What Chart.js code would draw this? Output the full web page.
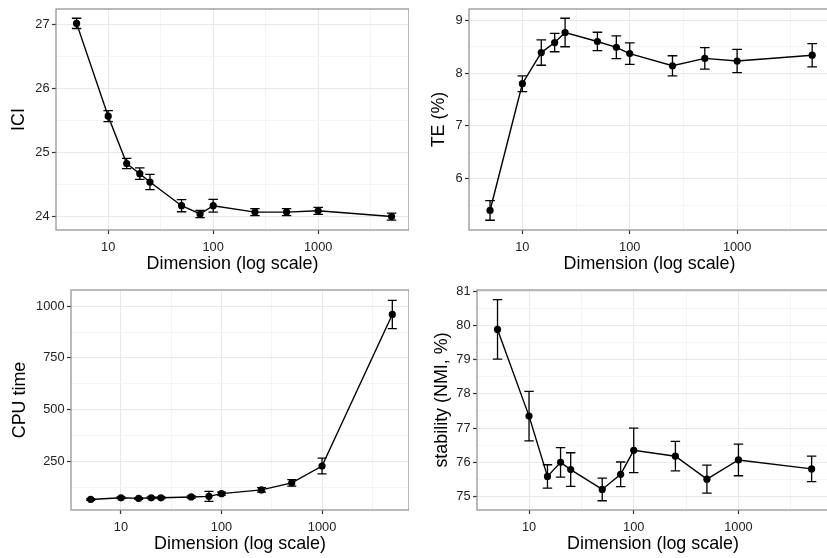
<!DOCTYPE html>
<html><head><meta charset="utf-8">
<script src="https://cdn.jsdelivr.net/npm/chart.js@4.4.1/dist/chart.umd.min.js"></script>
<style>
html,body{margin:0;padding:0;background:#fff;width:827px;height:558px;overflow:hidden;position:relative;}
.p{position:absolute;}
.p canvas{display:block;}
</style></head><body>
<div class="p" id="w1" style="left:8px;top:1px;width:401px;height:274px"><canvas id="c1"></canvas></div>
<div class="p" id="w2" style="left:428px;top:1px;width:402px;height:274px"><canvas id="c2"></canvas></div>
<div class="p" id="w3" style="left:9px;top:282px;width:400px;height:273px"><canvas id="c3"></canvas></div>
<div class="p" id="w4" style="left:431px;top:282px;width:398px;height:273px"><canvas id="c4"></canvas></div>
<script>
// ---- data ----
const dims = [5, 10, 15, 20, 25, 50, 75, 100, 250, 500, 1000, 5000];

const iciMean = [27.02, 25.57, 24.83, 24.67, 24.54, 24.17, 24.04, 24.17, 24.07, 24.07, 24.09, 24.00];
const iciErr  = [0.08, 0.085, 0.08, 0.09, 0.12, 0.095, 0.055, 0.10, 0.055, 0.055, 0.055, 0.055];

const teMean = [5.40, 7.80, 8.39, 8.58, 8.77, 8.60, 8.49, 8.37, 8.14, 8.28, 8.23, 8.34];
const teErr  = [0.185, 0.15, 0.24, 0.175, 0.27, 0.175, 0.215, 0.205, 0.19, 0.205, 0.22, 0.22];

const cpuMean = [67, 75, 72, 75, 75, 79, 82, 95, 113, 147, 228, 960];
const cpuErr  = [4, 4, 4, 4, 4, 5, 24, 7, 11, 16, 38, 68];

const stabMean = [79.88, 77.35, 75.59, 76.00, 75.79, 75.21, 75.65, 76.35, 76.18, 75.51, 76.07, 75.81];
const stabErr  = [0.87, 0.72, 0.34, 0.43, 0.49, 0.33, 0.36, 0.65, 0.43, 0.41, 0.46, 0.37];

const xMajor = [10, 100, 1000];
const xMinor = [31.62, 316.2, 3162];

const iciMajor = [24, 25, 26, 27];       const iciMinor = [24.5, 25.5, 26.5];
const teMajor = [6, 7, 8, 9];            const teMinor = [5.5, 6.5, 7.5, 8.5];
const cpuMajor = [250, 500, 750, 1000];  const cpuMinor = [125, 375, 625, 875];
const stabMajor = [75, 76, 77, 78, 79, 80, 81]; const stabMinor = [75.5, 76.5, 77.5, 78.5, 79.5, 80.5];

const xTitle = 'Dimension (log scale)';

// ---- styling ----
const FONT = '"Liberation Sans", Arial, Helvetica, sans-serif';
const TICK_FONT = {family: FONT, size: 12.8, lineHeight: 1.2};
const TITLE_FONT = {family: FONT, size: 17.9, lineHeight: 1.2};
const CAP_RATIO = Math.pow(10, 0.045);
const X_MIN = Math.pow(10, 0.503), X_MAX = Math.pow(10, 3.865);

function mkTicks(major, minor) {
  return major.map(v => ({value: v, minor: false}))
    .concat(minor.map(v => ({value: v, minor: true})))
    .sort((a, b) => a.value - b.value);
}

const errPlugin = {
  id: 'errbars',
  afterDatasetsDraw(chart) {
    const {ctx} = chart; const x = chart.scales.x, y = chart.scales.y;
    const ds = chart.data.datasets[0];
    ctx.save();
    ctx.strokeStyle = '#000'; ctx.lineWidth = 1.3;
    ds.data.forEach((p, i) => {
      const e = ds.err[i];
      const px = x.getPixelForValue(p.x);
      const xl = x.getPixelForValue(p.x / CAP_RATIO), xr = x.getPixelForValue(p.x * CAP_RATIO);
      const yt = y.getPixelForValue(p.y + e), yb = y.getPixelForValue(p.y - e);
      ctx.beginPath();
      ctx.moveTo(px, yt); ctx.lineTo(px, yb);
      ctx.moveTo(xl, yt); ctx.lineTo(xr, yt);
      ctx.moveTo(xl, yb); ctx.lineTo(xr, yb);
      ctx.stroke();
    });
    ctx.restore();
  },
  afterDraw(chart) {
    const {ctx, chartArea: a} = chart;
    ctx.save();
    ctx.strokeStyle = '#8c8c8c'; ctx.lineWidth = 1.2;
    ctx.strokeRect(a.left, a.top, a.right - a.left, a.bottom - a.top);
    ctx.restore();
  }
};

function gridOpts() {
  return {
    color: c => (c.tick && c.tick.minor) ? '#f4f4f4' : '#e8e8e8',
    lineWidth: 1,
    drawTicks: true,
    tickLength: 4,
    tickWidth: 1.2,
    tickColor: c => (c.tick && c.tick.minor) ? 'rgba(0,0,0,0)' : '#333333'
  };
}

function makePanel(id, yTitle, mean, err, yMin, yMax, yMajor, yMinor, yW, xH) {
  new Chart(document.getElementById(id), {
    type: 'line',
    data: {
      datasets: [{
        data: dims.map((d, i) => ({x: d, y: mean[i]})),
        err: err,
        borderColor: '#000',
        borderWidth: 1.4,
        pointRadius: 3.6,
        pointBackgroundColor: '#000',
        pointBorderColor: '#000',
        pointBorderWidth: 0,
        tension: 0,
        fill: false
      }]
    },
    options: {
      responsive: true,
      maintainAspectRatio: false,
      animation: false,
      devicePixelRatio: 1,
      layout: {padding: {top: 8, left: 0, right: 0, bottom: 0}, autoPadding: false},
      plugins: {legend: {display: false}, tooltip: {enabled: false}},
      events: [],
      scales: {
        x: {
          type: 'logarithmic',
          min: X_MIN, max: X_MAX,
          afterBuildTicks: s => { s.ticks = mkTicks(xMajor, xMinor); },
          afterFit: s => { s.height = xH; s.paddingLeft = 0; s.paddingRight = 0; },
          grid: gridOpts(),
          border: {display: false},
          ticks: {
            autoSkip: false, maxRotation: 0, padding: 5.5,
            color: '#222222', font: TICK_FONT,
            callback: (v, i, t) => t[i].minor ? '' : String(v)
          },
          title: {display: true, text: xTitle, color: '#000', font: TITLE_FONT, padding: 0}
        },
        y: {
          type: 'linear',
          min: yMin, max: yMax,
          afterBuildTicks: s => { s.ticks = mkTicks(yMajor, yMinor); },
          afterFit: s => { s.width = yW; s.paddingTop = 0; s.paddingBottom = 0; },
          grid: gridOpts(),
          border: {display: false},
          ticks: {
            autoSkip: false, padding: 2.5,
            color: '#222222', font: TICK_FONT,
            callback: (v, i, t) => t[i].minor ? '' : String(v)
          },
          title: {display: true, text: yTitle, color: '#000', font: TITLE_FONT, padding: 0}
        }
      }
    },
    plugins: [errPlugin]
  });
}

makePanel('c1', 'ICI', iciMean, iciErr, 23.79, 27.245, iciMajor, iciMinor, 48, 45);
makePanel('c2', 'TE (%)', teMean, teErr, 5.03, 9.215, teMajor, teMinor, 41, 45);
makePanel('c3', 'CPU time', cpuMean, cpuErr, 16, 1078, cpuMajor, cpuMinor, 62, 45);
makePanel('c4', 'stability (NMI, %)', stabMean, stabErr, 74.61, 81.03, stabMajor, stabMinor, 46, 45);
</script>
</body></html>
